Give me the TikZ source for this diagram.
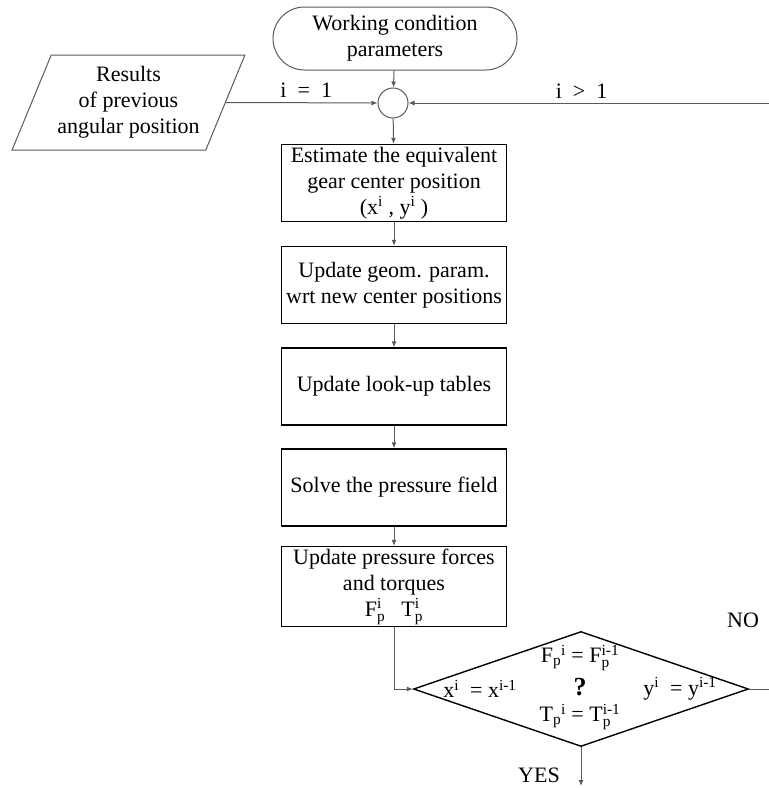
\documentclass[tikz,border=0pt]{standalone}
\usepackage{amsmath}
\usepackage{fontspec}
\setmainfont{Liberation Serif}
\usetikzlibrary{shapes.geometric, shapes.misc, arrows.meta, positioning}
\definecolor{linegray}{HTML}{5A5A5A}

\newcommand\supi[1]{$^{\text{#1}}$}
\newcommand\stk[2]{$_{\text{#1}}^{\text{#2}}$}

\tikzset{
  procbox/.style={draw=black, line width=1.4pt, minimum width=225pt, minimum height=77pt, align=center, inner sep=2pt},
  softline/.style={draw=linegray, line width=1pt},
  flowline/.style={softline, -{Latex[length=6pt,width=5pt]}},
}

\begin{document}
\begin{tikzpicture}[x=1pt, y=-1pt, font=\fontsize{22}{26}\selectfont]
        \useasboundingbox (0,0) rectangle (769,788);
        % start and loop entry
        \node[softline, rounded rectangle, minimum width=244pt, minimum height=63pt, inner sep=0pt, align=center] (params) at (395,38.5) {Working condition\\parameters};
        \node[softline, circle, minimum size=30pt, inner sep=0pt] (merge) at (393,103) {};
        \node[softline, trapezium, trapezium left angle=64, trapezium right angle=116, trapezium stretches=true, minimum width=233pt, minimum height=95pt, inner sep=2pt, align=center] (prev) at (128.5,102.5) {Results\\of previous\\angular position};
        \coordinate (loopin) at (769,103);
        % process steps
        \node[procbox] (estimate) at (394,183) {Estimate the equivalent\\gear center position\\(x\supi{i} , y\supi{i} )};
        \node[procbox] (geom) at (394,285) {Update geom. param.\\wrt new center positions};
        \node[procbox] (lookup) at (394,386.5) {Update look-up tables};
        \node[procbox] (solve) at (394,487.5) {Solve the pressure field};
        \node[procbox] (forces) at (394,586.5) {Update pressure forces\\and torques\\F\stk{p}{i}\hspace{16pt}T\stk{p}{i}};
        % convergence check
        \node[draw=black, line width=1.4pt, diamond, minimum width=335pt, minimum height=115pt, inner sep=0pt] (check) at (581,689) {};
        \node (fcheck) at (580,658) {F$_{\text{p}}{}^{\text{i}}$ = F\stk{p}{i-1}};
        \node[font=\fontsize{26}{30}\selectfont\bfseries] (mark) at (580,687) {?};
        \node (tcheck) at (580,717) {T$_{\text{p}}{}^{\text{i}}$ = T\stk{p}{i-1}};
        \node (xcheck) at (480,689) {x\supi{i}\ \ = x\supi{i-1}};
        \node (ycheck) at (680,689) {y\supi{i}\ \ = y\supi{i-1}};
        \node (no) at (743,620) {NO};
        \node (yes) at (539,775) {YES};
        \coordinate (noout) at (769,689);
        \coordinate (yesout) at (581,786);
        % connectors
        \draw[flowline] (params) -- (merge);
        \draw[flowline] (prev.east) -- node[above=1pt, pos=0.53] {i\enspace=\enspace1} (merge);
        \draw[flowline] (loopin) -- node[above=1pt, pos=0.52] {i\enspace>\enspace1} (merge);
        \foreach \from/\to in {merge/estimate, estimate/geom, geom/lookup, lookup/solve, solve/forces}
            \draw[flowline] (\from) -- (\to);
        \draw[flowline] (forces.south) |- (check.west);
        \draw[softline] (check.east) -- (noout);
        \draw[flowline] (check.south) -- (yesout);
    \end{tikzpicture}
\end{document}
